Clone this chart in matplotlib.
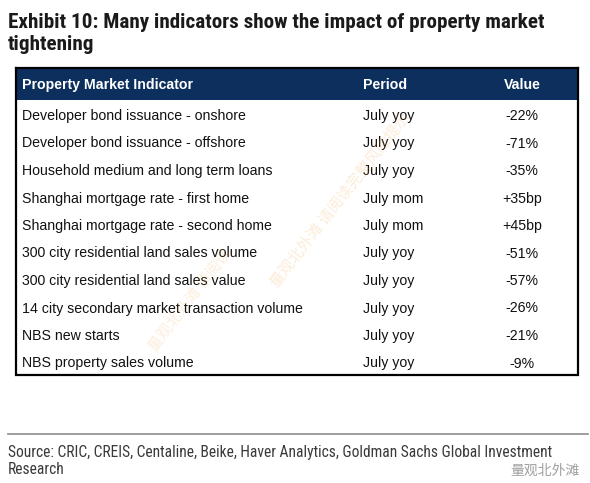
import matplotlib.pyplot as plt
from matplotlib import font_manager
from matplotlib.patches import Rectangle

# table contents
indicators = [
    "Developer bond issuance - onshore",
    "Developer bond issuance - offshore",
    "Household medium and long term loans",
    "Shanghai mortgage rate - first home",
    "Shanghai mortgage rate - second home",
    "300 city residential land sales volume",
    "300 city residential land sales value",
    "14 city secondary market transaction volume",
    "NBS new starts",
    "NBS property sales volume",
]
periods = ["July yoy", "July yoy", "July yoy", "July mom", "July mom",
           "July yoy", "July yoy", "July yoy", "July yoy", "July yoy"]
values = ["-22%", "-71%", "-35%", "+35bp", "+45bp",
          "-51%", "-57%", "-26%", "-21%", "-9%"]
headers = ["Property Market Indicator", "Period", "Value"]

title = "Exhibit 10: Many indicators show the impact of property market\ntightening"
source_lines = ["Source: CRIC, CREIS, Centaline, Beike, Haver Analytics, Goldman Sachs Global Investment",
                "Research"]

installed = {f.name for f in font_manager.fontManager.ttflist}
narrow = "Liberation Sans Narrow" if "Liberation Sans Narrow" in installed else "Roboto Condensed"
if narrow not in installed:
    narrow = "DejaVu Sans"
body = "Liberation Sans"

W, H = 590, 483
fig = plt.figure(figsize=(W / 100, H / 100), dpi=100)
ax = fig.add_axes([0, 0, 1, 1])
ax.set_xlim(0, W)
ax.set_ylim(H, 0)
ax.axis("off")

# title
ax.text(8, 33, title, family=narrow, fontweight="bold", fontsize=15.2,
        color="#1a1a1a", va="center", ha="left", linespacing=1.2)

# table frame
left, right, top, head_bot = 16, 578, 68, 100
row0, row_h = 116, 27.5
bottom = row0 + row_h * (len(indicators) - 1) + 11
ax.add_patch(Rectangle((left, top), right - left, head_bot - top,
                       facecolor="#0c2f5e", edgecolor="none"))
ax.plot([left, left, right, right], [top, bottom, bottom, top],
        color="black", lw=1.6, solid_joinstyle="miter")
ax.plot([left, right], [top, top], color="black", lw=1.6)

col_x = [22, 363, 522]
fs = 10.2
hy = (top + head_bot) / 2 + 1
ax.text(col_x[0], hy, headers[0], family=body, fontweight="bold", fontsize=fs,
        color="white", va="center", ha="left")
ax.text(col_x[1], hy, headers[1], family=body, fontweight="bold", fontsize=fs,
        color="white", va="center", ha="left")
ax.text(col_x[2], hy, headers[2], family=body, fontweight="bold", fontsize=fs,
        color="white", va="center", ha="center")

for i, (ind, per, val) in enumerate(zip(indicators, periods, values)):
    y = row0 + row_h * i
    ax.text(col_x[0], y, ind, family=body, fontsize=fs, color="#111111",
            va="center", ha="left")
    ax.text(col_x[1], y, per, family=body, fontsize=fs, color="#111111",
            va="center", ha="left")
    ax.text(col_x[2], y, val, family=body, fontsize=fs, color="#111111",
            va="center", ha="center")

# faint watermark
cjk = ["Noto Sans CJK SC", "DejaVu Sans"]
ax.text(340, 200, "量观北外滩 请阅读完整风险提示", family=cjk,
        fontsize=11, color="#f0a040", alpha=0.2, rotation=52,
        ha="center", va="center")
ax.text(190, 300, "量观北外滩 请阅读", family=cjk,
        fontsize=11, color="#f0a040", alpha=0.18, rotation=52,
        ha="center", va="center")

# source
ax.plot([8, 588], [434, 434], color="#8c8c8c", lw=1.2)
ax.text(8, 452, source_lines[0], family=narrow, fontsize=11.2, color="#3a3a3a",
        va="center", ha="left")
ax.text(8, 470, source_lines[1], family=narrow, fontsize=11.2, color="#3a3a3a",
        va="center", ha="left")
ax.text(545, 471, "量观北外滩", family=cjk,
        fontsize=10, color="#a0a0a0", va="center", ha="center")

fig.savefig("out.png", dpi=100)
